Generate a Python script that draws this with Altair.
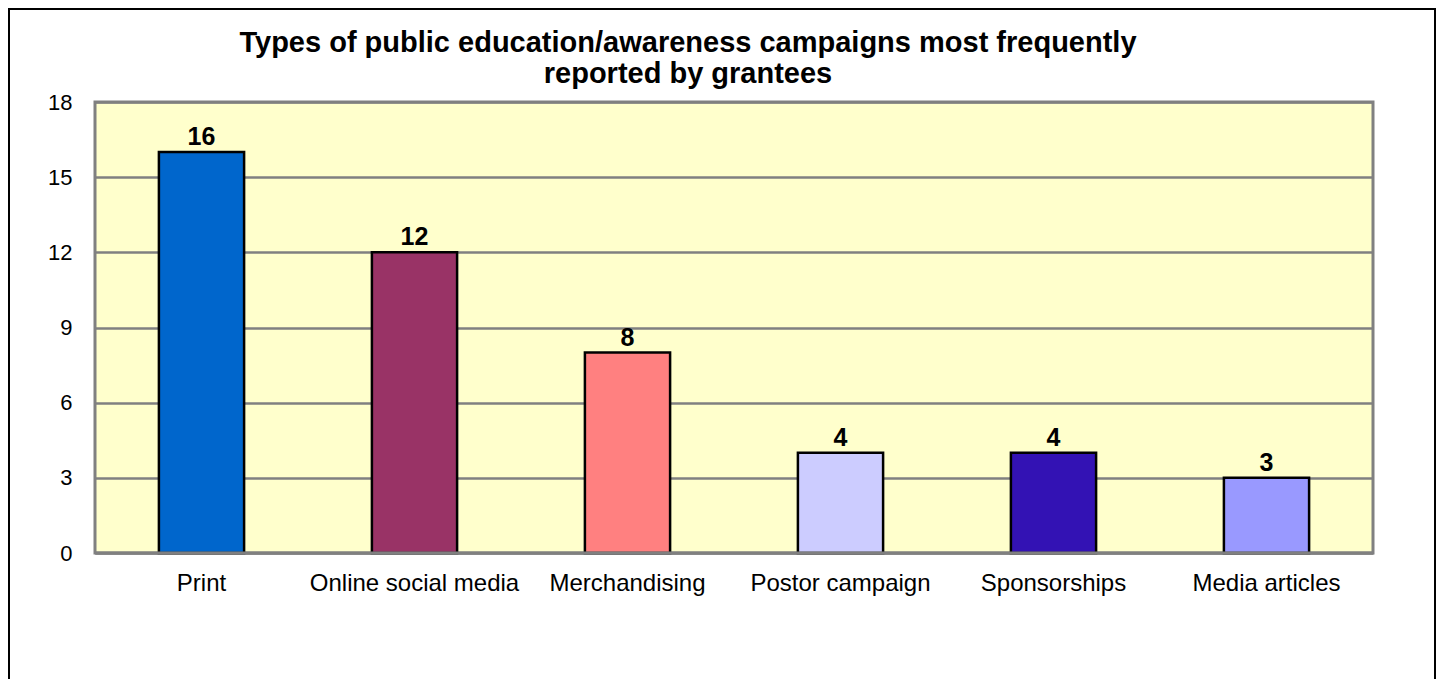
import altair as alt
import pandas as pd

categories = ["Print", "Online social media", "Merchandising", "Postor campaign", "Sponsorships", "Media articles"]
counts = [16, 12, 8, 4, 4, 3]
colors = ["#0066CC", "#993366", "#FF8080", "#CCCCFF", "#3312B4", "#9999FF"]
y_ticks = [0, 3, 6, 9, 12, 15, 18]
title_lines = ["Types of public education/awareness campaigns most frequently", "reported by grantees"]

df = pd.DataFrame({"category": categories, "count": counts, "color": colors})

W, H = 1278, 451
FONT = "Liberation Sans"

x_enc = alt.X(
    "category:N", sort=categories,
    scale=alt.Scale(paddingInner=0.6, paddingOuter=0.3),
    axis=alt.Axis(title=None, labelAngle=0, labelFontSize=24, labelPadding=18, ticks=False,
                  domain=False, grid=False, labelColor="black", labelFont=FONT, labelLimit=0),
)
y_enc = alt.Y(
    "count:Q", scale=alt.Scale(domain=[0, 18]),
    axis=alt.Axis(title=None, values=y_ticks, ticks=False, domain=False, grid=True,
                  gridColor="#808080", gridWidth=2.5, gridOpacity=1, labelFontSize=22,
                  labelPadding=23, labelColor="black", labelFont=FONT),
)

bars = alt.Chart(df).mark_bar(stroke="black", strokeWidth=2.5).encode(
    x=x_enc, y=y_enc, fill=alt.Fill("color:N", scale=None)
)
labels = alt.Chart(df).mark_text(fontWeight="bold", fontSize=25, baseline="alphabetic", dy=-7,
                                 font=FONT, color="black").encode(
    x=x_enc, y=y_enc, text="count:Q"
)
base_rule = alt.Chart(pd.DataFrame({"v": [0]})).mark_rule(color="#808080", strokeWidth=3).encode(
    y=alt.datum(0)
)
frame = alt.Chart(pd.DataFrame({"v": [0]})).mark_rect(fillOpacity=0, stroke="black", strokeWidth=2).encode(
    x=alt.value(-86), x2=alt.value(1340), y=alt.value(-93), y2=alt.value(H + 200)
)

chart = alt.layer(bars, labels, base_rule, frame).properties(
    width=W, height=H,
    autosize="none",
    padding={"left": 87, "top": 94, "right": 64, "bottom": 126},
    title=alt.TitleParams(text=title_lines, fontSize=29, fontWeight="bold", font=FONT,
                          lineHeight=31, anchor="middle", dx=-46, offset=-81, color="black"),
).configure(background="white").configure_view(fill="#FFFFCC", stroke="#808080", strokeWidth=3)

chart.save("out.html", embed_options={"renderer": "svg", "actions": False})
